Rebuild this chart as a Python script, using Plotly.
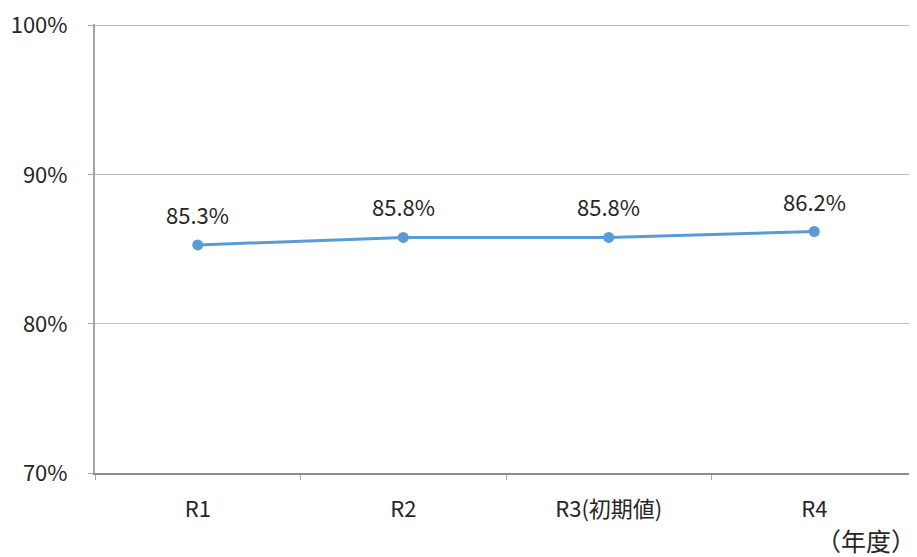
import plotly.graph_objects as go

categories = ["R1", "R2", "R3(初期値)", "R4"]
values = [85.3, 85.8, 85.8, 86.2]
value_labels = ["85.3%", "85.8%", "85.8%", "86.2%"]
y_tickvals = [70, 80, 90, 100]
y_ticktext = ["70%", "80%", "90%", "100%"]
unit_label = "（年度）"

FONT = "Noto Sans CJK JP, Noto Sans, sans-serif"
BLUE = "#5B9BD5"
TXT = "#262626"

fig = go.Figure()
fig.add_trace(go.Scatter(
    x=categories, y=values, mode="lines+markers",
    line=dict(color=BLUE, width=3),
    marker=dict(color=BLUE, size=11),
    hoverinfo="skip", showlegend=False,
))

for c, v, t in zip(categories, values, value_labels):
    fig.add_annotation(x=c, y=v, text=t, showarrow=False, yshift=31,
                       font=dict(family=FONT, size=22, color=TXT))

fig.add_annotation(xref="paper", yref="paper", x=1, y=0, xanchor="right",
                   yanchor="middle", yshift=-67, xshift=1, text=unit_label,
                   showarrow=False,
                   font=dict(family="Noto Sans CJK SC, Noto Sans CJK JP", size=25, color=TXT))

fig.update_layout(
    width=909, height=549,
    margin=dict(l=87, r=0, t=16, b=84),
    paper_bgcolor="white", plot_bgcolor="white",
    xaxis=dict(
        type="category", range=[-0.5, 3.5],
        tickson="boundaries", ticks="outside", ticklen=5, tickcolor="#A6A6A6",
        showline=True, linecolor="#8C8C8C", linewidth=2,
        showgrid=False, ticklabelstandoff=16,
        tickfont=dict(family=FONT, size=22, color=TXT),
    ),
    yaxis=dict(
        range=[70, 100.12], tickvals=y_tickvals, ticktext=y_ticktext,
        ticks="outside", ticklen=5, tickcolor="#A6A6A6",
        showline=True, linecolor="#A6A6A6", linewidth=2,
        showgrid=True, gridcolor="#BFBFBF", gridwidth=1,
        zeroline=False, ticklabelstandoff=16, ticklabeloverflow="allow",
        tickfont=dict(family=FONT, size=22, color=TXT),
    ),
)

fig.write_html("out.html")
